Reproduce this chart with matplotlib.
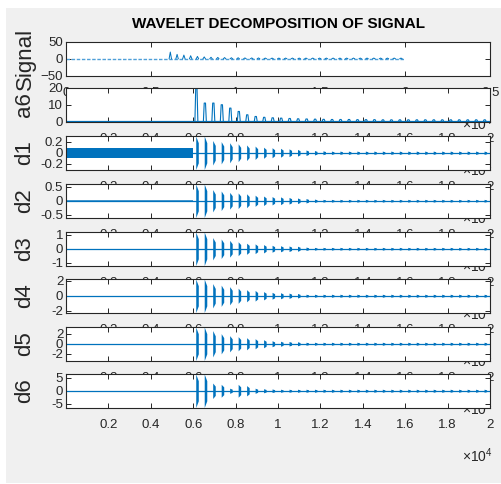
import numpy as np
import matplotlib
matplotlib.use('Agg')
import matplotlib.pyplot as plt
from matplotlib.patches import Rectangle

plt.rcParams['font.family'] = ['Liberation Sans', 'DejaVu Sans']
plt.rcParams['mathtext.fontset'] = 'custom'
plt.rcParams['mathtext.rm'] = 'Liberation Sans'

blue = '#0072BD'
dark = '#262626'

# burst positions (samples)
bursts = [6150, 6550, 6950, 7350, 7750, 8150, 8550, 8950, 9350, 9750,
          10150, 10550, 10950, 11350, 11750, 12150, 12550, 12950, 13350, 13750,
          14150, 14550, 14950, 15350, 15750, 16150, 16550, 16950, 17350, 17750,
          18150, 18550, 18950, 19350, 19750]
onset = 6000
sig_end = 20000
n_end = 20000

sig_peaks = [20, 13, 11, 9, 7, 5.5, 4.5, 4, 3.5, 3, 3, 2.5, 2.5, 2.5, 2, 2, 2, 2,
             2, 2, 2, 2, 2, 2, 2, 2, 2, 2, 2, 2, 2, 2, 2, 2, 2]
a6_peaks = [20, 11, 11, 10, 8, 6, 4, 3, 2.5, 2.2, 2, 1.8, 1.6, 1.5, 1.4, 1.3, 1.2, 1.2,
            1.2, 1.1, 1.1, 1.1, 1, 1, 1, 1, 1, 1, 1, 1, 1, 1, 1, 1, 1]
d1_amp = [0.3, 0.3, 0.22, 0.2, 0.18, 0.16, 0.14, 0.12, 0.1, 0.09, 0.08, 0.07, 0.06, 0.05,
          0.04, 0.035, 0.03, 0.03, 0.03, 0.03, 0.03, 0.03, 0.03, 0.03, 0.03, 0.03, 0.03,
          0.03, 0.03, 0.03, 0.03, 0.03, 0.03, 0.03, 0.03]
d2_amp = [0.6, 0.6, 0.4, 0.35, 0.3, 0.28, 0.25, 0.2, 0.17, 0.15, 0.14, 0.12, 0.1, 0.08,
          0.06, 0.05, 0.05, 0.05, 0.05, 0.05, 0.05, 0.05, 0.05, 0.05, 0.05, 0.05, 0.05,
          0.05, 0.05, 0.05, 0.05, 0.05, 0.05, 0.05, 0.05]
d3_amp = [1.2, 1.2, 0.8, 0.7, 0.6, 0.5, 0.4, 0.35, 0.3, 0.25, 0.22, 0.2, 0.18, 0.12,
          0.1, 0.1, 0.1, 0.1, 0.1, 0.1, 0.1, 0.1, 0.1, 0.1, 0.1, 0.1, 0.1, 0.1, 0.1,
          0.1, 0.1, 0.1, 0.1, 0.1, 0.1]
d4_amp = [2.2, 2.2, 1.6, 1.4, 1.2, 1.0, 0.8, 0.7, 0.55, 0.45, 0.4, 0.35, 0.3, 0.2,
          0.2, 0.2, 0.2, 0.2, 0.2, 0.2, 0.2, 0.2, 0.2, 0.2, 0.2, 0.2, 0.2, 0.2, 0.2,
          0.2, 0.2, 0.2, 0.2, 0.2, 0.2]
d5_amp = [3.3, 3.3, 2.6, 2.0, 1.6, 1.4, 1.2, 1.0, 0.8, 0.6, 0.5, 0.45, 0.4, 0.3,
          0.3, 0.3, 0.3, 0.3, 0.3, 0.3, 0.3, 0.3, 0.3, 0.3, 0.3, 0.3, 0.3, 0.3, 0.3,
          0.3, 0.3, 0.3, 0.3, 0.3, 0.3]
d6_amp = [6.5, 6.5, 3, 2.5, 1, 2.5, 2, 1, 0.8, 0.7, 0.6, 0.6, 0.6, 0.6, 0.6, 0.6,
          0.6, 0.6, 0.6, 0.6, 0.6, 0.6, 0.6, 0.6, 0.6, 0.6, 0.6, 0.6, 0.6, 0.6, 0.6,
          0.6, 0.6, 0.6, 0.6]
d1_noise = 0.09
d2_noise = 0.03

d_names = ['d1', 'd2', 'd3', 'd4', 'd5', 'd6']
d_amps = [d1_amp, d2_amp, d3_amp, d4_amp, d5_amp, d6_amp]
d_lims = [0.3, 0.6, 1.2, 2.2, 3.3, 6.5]
d_ticks = [[-0.2, 0, 0.2], [-0.5, 0, 0.5], [-1, 0, 1], [-2, 0, 2], [-2, 0, 2], [-5, 0, 5]]
d_ticklabels = [['-0.2', '0', '0.2'], ['-0.5', '0', '0.5'], ['-1', '0', '1'],
                ['-2', '0', '2'], ['-2', '0', '2'], ['-5', '0', '5']]

xtick_labels = ['0.2', '0.4', '0.6', '0.8', '1', '1.2', '1.4', '1.6', '1.8', '2']
sig_xtick_labels = ['0', '0.5', '1', '1.5', '2', '2.5']

W, H = 501, 484
fig = plt.figure(figsize=(W / 100, H / 100), dpi=100)
fig.patch.set_facecolor('white')
fig.patches.append(Rectangle((6 / W, 1 - 483 / H), (W - 6) / W, (483 - 8) / H,
                             transform=fig.transFigure, facecolor='#f0f0f0',
                             edgecolor='none', zorder=-1))

left, width = 66 / W, 424 / W
tops = [42, 88, 136, 184, 232, 279, 327, 374]
h = 33.5


def style(ax, name):
    ax.tick_params(direction='in', length=3.5, width=0.7, top=True, right=True,
                   colors=dark, labelsize=9.5)
    ax.tick_params(axis='x', pad=8.5)
    ax.tick_params(axis='y', pad=2)
    for s in ax.spines.values():
        s.set_color(dark)
        s.set_linewidth(0.8)
    ax.set_ylabel(name, fontsize=16, color=dark)
    ax.yaxis.set_label_coords(-0.072, 0.5)
    ax.text(0.934, -1.45, u'\u00d710$^4$', transform=ax.transAxes, ha='left', va='center',
            fontsize=10, color=dark, clip_on=False)


axes = [fig.add_axes([left, 1 - (t + h) / H, width, h / H]) for t in tops]

# original signal
ax = axes[0]
ax.plot([0, sig_end], [0, 0], color='#4f9fd8', lw=1.0, ls=(0, (2.5, 1.2)))
for t, p in zip(bursts, sig_peaks):
    ax.plot([t - 70, t, t + 70], [0, p, 0], color=blue, lw=0.7)
ax.set_xlim(0, 25000)
ax.set_ylim(-50, 50)
ax.set_yticks([-50, 0, 50])
ax.set_xticks([float(s) * 1e4 for s in sig_xtick_labels])
ax.set_xticklabels(sig_xtick_labels)
style(ax, 'Signal')

# approximation a6
ax = axes[1]
ax.plot([0, n_end], [0, 0], color=blue, lw=1.6)
for t, p in zip(bursts, a6_peaks):
    ax.plot([t - 70, t - 30, t + 30, t + 70], [0, p, p, 0], color=blue, lw=0.8)
ax.set_xlim(0, 20000)
ax.set_ylim(0, 20)
ax.set_yticks([0, 10, 20])
ax.set_xticks([float(s) * 1e4 for s in xtick_labels])
ax.set_xticklabels(xtick_labels)
style(ax, 'a6')

# details d1..d6
for i, (name, amp, lim) in enumerate(zip(d_names, d_amps, d_lims)):
    ax = axes[i + 2]
    ax.plot([0, n_end], [0, 0], color=blue, lw=0.9)
    if name == 'd1':
        ax.fill_between([0, onset], -d1_noise, d1_noise, color=blue, lw=0)
    if name == 'd2':
        ax.fill_between([0, onset], -d2_noise, d2_noise, color=blue, lw=0, alpha=0.7)
    for t, a in zip(bursts, amp):
        ax.fill_between([t - 30, t + 90], [-a, -0.6 * a], [a, 0.6 * a], color=blue, lw=0)
    ax.set_xlim(0, 20000)
    ax.set_ylim(-lim, lim)
    ax.set_yticks(d_ticks[i])
    ax.set_yticklabels(d_ticklabels[i])
    ax.set_xticks([float(s) * 1e4 for s in xtick_labels])
    ax.set_xticklabels(xtick_labels)
    style(ax, name)

fig.text(278 / W, 1 - 24 / H, 'WAVELET DECOMPOSITION OF SIGNAL', ha='center', va='center',
         fontsize=11, fontweight='bold', color='black')

fig.savefig('out.png', dpi=100, facecolor=fig.get_facecolor())
